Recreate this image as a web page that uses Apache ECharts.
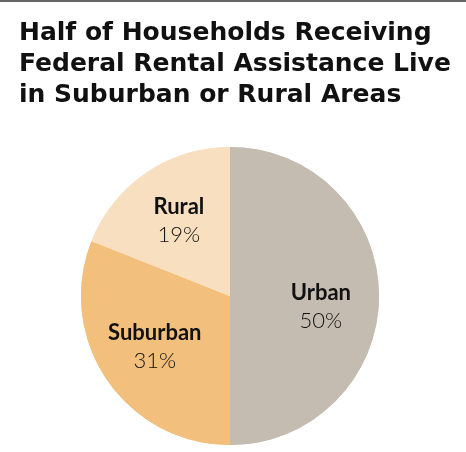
<!DOCTYPE html>
<html>
<head>
<meta charset="utf-8">
<script src="https://cdn.jsdelivr.net/npm/echarts@6/dist/echarts.min.js"></script>
<style>
  html, body { margin: 0; padding: 0; background: #fff; }
  #main { width: 466px; height: 452px; }
</style>
</head>
<body>
<div id="main"></div>
<script>
var categories = ['Urban', 'Suburban', 'Rural'];
var shares = [50, 31, 19];
var sliceColors = ['#c4bcb0', '#f2bf7c', '#f8dfbf'];

var chart = echarts.init(document.getElementById('main'));

var pieData = categories.map(function (name, i) {
    return { name: name, value: shares[i], itemStyle: { color: sliceColors[i] } };
});

var center = [230, 296];
var radius = 149;

chart.setOption({
    backgroundColor: '#fff',
    animation: false,
    title: {
        text: 'Half of Households Receiving\nFederal Rental Assistance Live\nin Suburban or Rural Areas',
        left: 14,
        top: 13,
        textStyle: {
            fontFamily: 'DejaVu Sans',
            fontWeight: 'bold',
            fontSize: 25,
            lineHeight: 31,
            color: '#111'
        }
    },
    graphic: [{
        type: 'rect',
        shape: { x: 0, y: 0, width: 466, height: 2 },
        style: { fill: '#666' }
    }],
    series: [
        {
            // base disc without labels
            type: 'pie',
            center: center,
            radius: [0, radius],
            startAngle: 90,
            clockwise: true,
            silent: true,
            label: { show: false },
            labelLine: { show: false },
            data: pieData
        },
        {
            // same slices with an inner gap so labels sit further out
            type: 'pie',
            center: center,
            radius: [radius * 0.18, radius],
            startAngle: 90,
            clockwise: true,
            silent: true,
            labelLine: { show: false },
            label: {
                show: true,
                position: 'inside',
                formatter: function (p) {
                    return '{n|' + p.name + '}\n{v|' + p.value + '%}';
                },
                rich: {
                    n: { fontFamily: 'Lato', fontWeight: 'bold', fontSize: 22, color: '#111', lineHeight: 28 },
                    v: { fontFamily: 'Lato', fontWeight: 300, fontSize: 22, color: '#111', lineHeight: 28 }
                }
            },
            // urban label sits a bit lower in the original
            labelLayout: function (p) {
                if (p.dataIndex === 0) return { dy: 11 };
            },
            data: pieData
        }
    ]
});
</script>
</body>
</html>
